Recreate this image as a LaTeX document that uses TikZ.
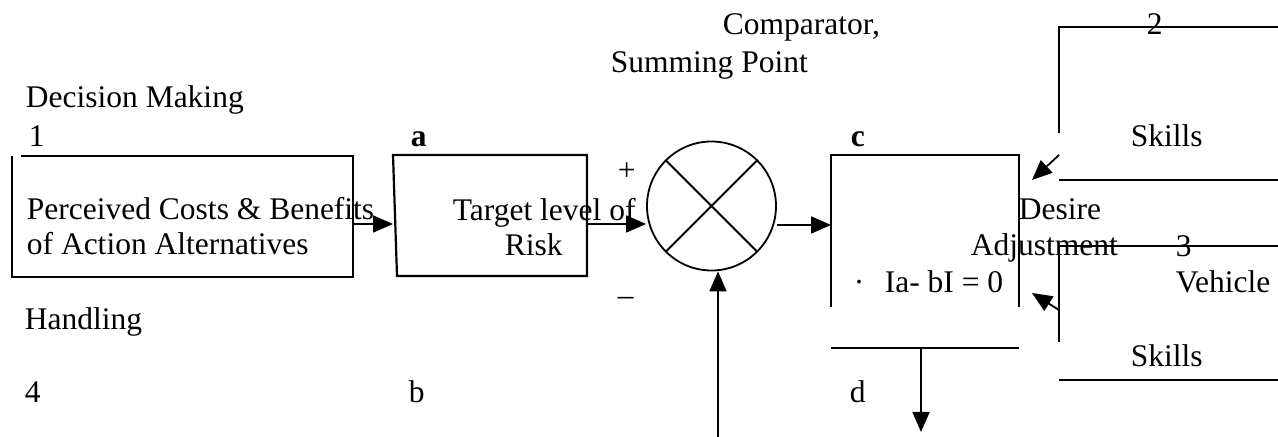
\documentclass[tikz,border=0pt]{standalone}
\usepackage{fontspec}
\setmainfont{Liberation Serif}
\usetikzlibrary{arrows.meta}

\begin{document}
\begin{tikzpicture}[>={Triangle[length=10pt,width=8.5pt]}, x=0.5pt, y=-0.5pt, line width=0.9pt,
  lbl/.style={anchor=base west, inner sep=0pt, font=\fontsize{15.75}{18}\selectfont},
  bld/.style={lbl, font=\fontsize{15.75}{18}\selectfont\bfseries},
  blk/.style={line width=1.1pt}]
\useasboundingbox (0,0) rectangle (1278,437);
% decision making
\node[lbl] (dm) at (25,108) {Decision Making};
\node[lbl] (n1) at (28,147) {1};
\draw[blk] (21,156) -- (353,156) -- (353,277) -- (12,277) -- (12,156);
\node[lbl] (pc1) at (26,220) {Perceived Costs \& Benefits};
\node[lbl] (pc2) at (26,255) {of Action Alternatives};
\node[lbl] (hd) at (24,330) {Handling};
\node[lbl] (n4) at (24,403) {4};
% target level of risk
\node[bld] (la) at (410,147) {a};
\draw[blk] (393,155) -- (587,155) -- (587,276) -- (397,276) -- cycle;
\node[lbl] (tl1) at (452,221) {Target level of};
\node[lbl] (tl2) at (504,256) {Risk};
\node[lbl] (lb) at (408,403) {b};
\coordinate (b1out) at (353,224);
\coordinate (ain) at (393,224);
\draw[->] (b1out) -- (ain);
% comparator
\node[lbl] (cmp1) at (722,35) {Comparator,};
\node[lbl] (cmp2) at (610,73) {Summing Point};
\node[draw, circle, minimum size=64.5pt, inner sep=0pt] (sum) at (711.5,206) {};
\draw (sum.north west) -- (sum.south east) (sum.north east) -- (sum.south west);
\node[lbl] (plus) at (617,181) {+};
\node[lbl] (minus) at (617,306) {--};
\coordinate (aout) at (587,224);
\draw[->] (aout) -- (aout -| sum.west);
\coordinate (cin) at (831,225);
\draw[->] (sum.east |- cin) -- (cin);
\coordinate (fb) at (718,437);
\draw[->] (fb) -- (fb |- sum.south);
% desire adjustment
\node[bld] (lc) at (850,147) {c};
\draw[blk] (831,307) -- (831,155) -- (1019,155) -- (1019,307);
\draw[blk] (831,348) -- (1019,348);
\node[lbl] (da1) at (1018,220) {Desire};
\node[lbl] (da2) at (970,256) {Adjustment};
\node[lbl] (eq) at (853,293) {·\hspace{0.65em}Ia- bI = 0};
\node[lbl] (ld) at (849,403) {d};
\coordinate (cout) at (921,348);
\coordinate (dout) at (921,432);
\draw[->] (cout) -- (dout);
% skills
\draw[blk] (1059,133) -- (1059,27) -- (1278,27);
\draw[blk] (1059,180) -- (1278,180);
\node[lbl] (n2) at (1146,35) {2};
\node[lbl] (sk1) at (1130,147) {Skills};
\coordinate (s2out) at (1059,155);
\coordinate (s2in) at (1032,180);
\draw[->] (s2out) -- (s2in);
\draw[blk] (1059,342) -- (1059,246) -- (1278,246);
\draw[blk] (1059,380) -- (1278,380);
\node[lbl] (n3) at (1175,257) {3};
\node[lbl] (vh) at (1175,293) {Vehicle};
\node[lbl] (sk2) at (1130,367) {Skills};
\coordinate (s3out) at (1059,310);
\coordinate (s3in) at (1032,293);
\draw[->] (s3out) -- (s3in);
\end{tikzpicture}
\end{document}
